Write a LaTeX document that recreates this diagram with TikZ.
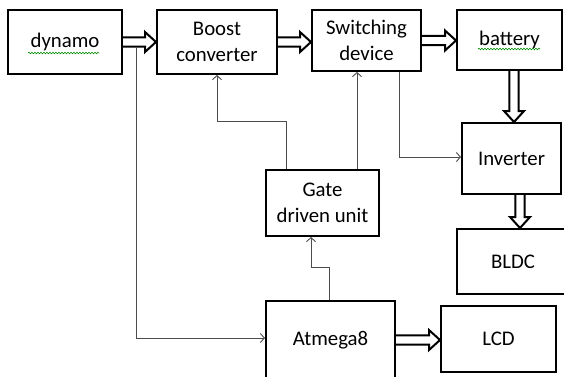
\documentclass[tikz,border=0pt]{standalone}
\usepackage{fontspec}
\setmainfont{Carlito}
\usetikzlibrary{arrows.meta,calc,decorations.pathmorphing}
\tikzset{
  box/.style={draw=black, line width=2pt, fill=white, anchor=north west, inner sep=0pt, align=center, font=\fontsize{20.8}{26}\selectfont},
  blk/.style={draw=black, line width=2pt, line join=miter, fill=white},
  thin/.style={draw=black!70, line width=0.9pt, -{Straight Barb[length=4pt,width=9pt,line width=0.9pt]}},
  squig/.style={draw=green!55!black, line width=0.6pt, decorate, decoration={snake, amplitude=0.8pt, segment length=3pt}}
}
\newcommand\harr[2]{%
  \draw[blk] let \p1=(#1), \p2=(#2) in
    (\x1,\y1+4.7pt) -- (\x2-11pt,\y1+4.7pt) -- (\x2-11pt,\y1+10pt) -- (\x2,\y1)
    -- (\x2-11pt,\y1-10pt) -- (\x2-11pt,\y1-4.7pt) -- (\x1,\y1-4.7pt);}
\newcommand\varr[3]{%
  \draw[blk] let \p1=(#1), \p2=(#2) in
    (#3-4.7pt,\y1) -- (#3-4.7pt,\y2+11pt) -- (#3-10pt,\y2+11pt) -- (#3,\y2)
    -- (#3+10pt,\y2+11pt) -- (#3+4.7pt,\y2+11pt) -- (#3+4.7pt,\y1);}
\begin{document}
\begin{tikzpicture}[x=1pt,y=-1pt]
\useasboundingbox (0,0) rectangle (564,376);
\node[box, minimum width=114pt, minimum height=64pt] (dyn) at (7,9) {dynamo};
\node[box, minimum width=120pt, minimum height=64pt] (boost) at (156,9) {Boost\\converter};
\node[box, minimum width=109pt, minimum height=61pt] (sw) at (311,9) {Switching\\device};
\node[box, minimum width=105pt, minimum height=60pt] (bat) at (456,9) {battery};
\node[box, minimum width=99pt, minimum height=71pt] (inv) at (461,122) {Inverter};
\node[box, minimum width=112pt, minimum height=65pt, text width=108pt] (bldc) at (456,228) {BLDC\hspace*{6pt}};
\node[box, minimum width=113pt, minimum height=66pt] (gate) at (265,169) {Gate\\driven unit};
\node[box, minimum width=129pt, minimum height=78pt] (atm) at (265,300) {Atmega8};
\node[box, minimum width=115pt, minimum height=66pt] (lcd) at (440,305) {LCD};
% spell-check underlines
\draw[squig] (28,53) -- (99,53);
\draw[squig] (478,49) -- (540,49);
% block arrows
\harr{dyn.east}{boost.west}
\harr{boost.east}{sw.west}
\harr{sw.east}{bat.west}
\harr{atm.east}{lcd.west}
\varr{bat.south}{inv.north}{514pt}
\varr{inv.south}{bldc.north}{520pt}
% thin connectors
\coordinate (tap) at (136,46.7);
\draw[thin] (tap) |- (atm.west |- 0,338);
\draw[thin] ($(gate.north west)+(21,0)$) |- (217,121) -- (boost.south -| 217,0);
\draw[thin] ($(gate.north west)+(92,0)$) -- (sw.south -| 357,0);
\draw[thin, -] (sw.south -| 399,0) |- (430,157);
\draw[thin] (430,157) -- (inv.west |- 0,157);
\draw[thin] ($(atm.north west)+(64,0)$) |- (311,267) -- (gate.south -| 311,0);
\end{tikzpicture}
\end{document}
